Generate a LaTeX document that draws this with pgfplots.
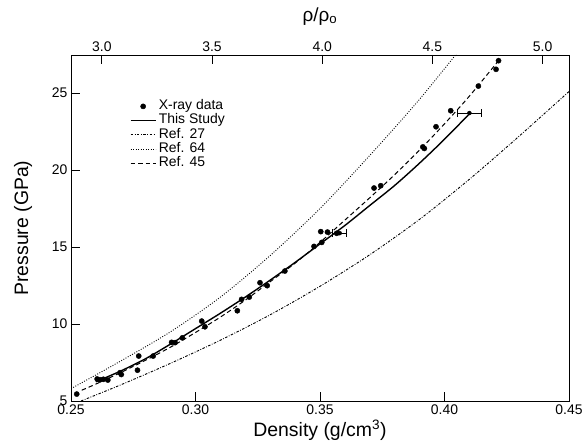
\documentclass[border=0pt]{standalone}
\usepackage{fontspec}
\setmainfont{Liberation Sans}
\usepackage{pgfplots}
\pgfplotsset{compat=1.18}
\pgfplotsset{
  lineleg/.style={legend image code/.code={\draw[##1] (0bp,0bp) -- (25bp,0bp);}},
  dotleg/.style={legend image code/.code={\draw[##1] plot coordinates {(12.5bp,0bp)};}},
}
\begin{document}
\begin{tikzpicture}
\useasboundingbox (-71bp,-43bp) rectangle (514bp,401bp);
\begin{axis}[
  at={(0,0)}, anchor=south west,
  scale only axis, width=498bp, height=346bp,
  xmin=0.25, xmax=0.45, ymin=5, ymax=27.47,
  xtick={0.25,0.30,0.35,0.40,0.45},
  ytick={5,10,15,20,25},
  xtick pos=left, ytick pos=left,
  tick align=inside, major tick length=9bp, minor tick num=0,
  axis line style={line width=0.9bp},
  tick style={black, line width=0.9bp},
  /pgf/number format/assume math mode=true,
  xticklabel style={/pgf/number format/.cd, fixed, fixed zerofill, precision=2},
  tick label style={font=\fontsize{14}{14}\selectfont},
  xlabel={Density (g/cm\textsuperscript{3})},
  ylabel={Pressure (GPa)},
  label style={font=\fontsize{19.5}{20}\selectfont},
  xlabel style={at={(axis description cs:0.5,-0.104)}, anchor=base},
  ylabel style={at={(axis description cs:-0.0863,0.5)}, anchor=base},
  legend cell align=left,
  legend style={at={(axis description cs:0.118,0.872)}, anchor=north west,
    draw=none, fill=none, inner sep=0pt, row sep=0.4bp,
    font=\fontsize{14}{14}\selectfont,
    nodes={text height=10bp, text depth=3.2bp, inner ysep=0.3bp, inner xsep=2.5bp}},
]
\addplot[only marks, mark=*, mark size=2.6bp, black, dotleg]
coordinates {
(0.2523,5.45)
(0.2605,6.43)(0.2617,6.38)(0.2630,6.41)(0.2648,6.36)
(0.2697,6.84)(0.2702,6.72)
(0.2767,7.00)(0.2772,7.92)
(0.2830,7.92)
(0.2904,8.81)(0.2918,8.79)(0.2947,9.10)
(0.3025,10.19)(0.3038,9.82)
(0.3168,10.86)(0.3185,11.60)(0.3216,11.75)
(0.3259,12.68)(0.3288,12.49)
(0.3359,13.44)
(0.3476,15.04)(0.3507,15.30)
(0.3503,16.00)(0.3530,15.97)(0.3567,15.89)
(0.3717,18.83)(0.3744,18.98)
(0.3913,21.50)(0.3919,21.40)
(0.3966,22.81)
(0.4025,23.85)
(0.4136,25.45)
(0.4207,26.54)(0.4217,27.10)
};
\addlegendentry{X-ray data}
\addplot[black, line width=1.4bp, smooth, lineleg]
coordinates {
(0.26,6.25)(0.27,6.95)(0.28,7.75)(0.29,8.7)(0.30,9.7)(0.31,10.7)(0.32,11.75)
(0.33,12.85)(0.34,14.0)(0.35,15.2)(0.36,16.4)(0.37,17.7)(0.38,19.0)
(0.39,20.45)(0.40,22.0)(0.41,23.65)
};
\addlegendentry{This Study}
\addplot[black, line width=0.9bp, smooth, dash pattern=on 2.5bp off 1.5bp on 0.8bp off 1.5bp, lineleg]
coordinates {
(0.254,5.0)(0.27,6.05)(0.29,7.45)(0.31,8.95)(0.33,10.6)(0.35,12.45)
(0.37,14.5)(0.39,16.8)(0.41,19.4)(0.43,22.2)(0.45,25.1)
};
\addlegendentry{Ref. 27}
\addplot[black, line width=0.9bp, smooth, dash pattern=on 0.9bp off 1.6bp, lineleg]
coordinates {
(0.25,5.8)(0.27,7.6)(0.29,9.5)(0.31,11.75)(0.33,14.45)(0.35,17.5)
(0.37,20.95)(0.39,24.6)(0.41,28.6)
};
\addlegendentry{Ref. 64}
\addplot[black, line width=1.0bp, smooth, dash pattern=on 4.5bp off 3bp, lineleg]
coordinates {
(0.2543,5.7)(0.26,6.1)(0.27,6.85)(0.28,7.65)(0.29,8.5)(0.30,9.45)(0.31,10.45)
(0.32,11.55)(0.33,12.75)(0.34,13.95)(0.35,15.3)(0.36,16.75)(0.37,18.2)
(0.38,19.7)(0.39,21.3)(0.40,23.0)(0.41,24.8)(0.4217,27.1)
};
\addlegendentry{Ref. 45}
\addplot[black, only marks, mark=none, forget plot,
  error bars/.cd, x dir=both, x explicit, error mark=|,
  error bar style={black, solid, line width=0.9bp},
  error mark options={black, mark size=4bp, line width=0.9bp}]
coordinates {
(0.3579,15.9) +- (0.0028,0)
(0.4100,23.7) +- (0.0050,0)
};
\end{axis}
\begin{axis}[
  at={(0,0)}, anchor=south west,
  scale only axis, width=498bp, height=346bp,
  xmin=2.86, xmax=5.12, ymin=0, ymax=1,
  axis x line*=top, axis y line=none,
  xtick={3.0,3.5,4.0,4.5,5.0},
  tick align=inside, major tick length=9bp,
  axis line style={line width=0.9bp},
  tick style={black, line width=0.9bp},
  /pgf/number format/assume math mode=true,
  xticklabel style={/pgf/number format/.cd, fixed, fixed zerofill, precision=1},
  tick label style={font=\fontsize{14}{14}\selectfont},
  xlabel={ρ/ρ\textsubscript{o}},
  label style={font=\fontsize{19}{20}\selectfont},
  xlabel style={at={(axis description cs:0.5,1.098)}, anchor=base},
]
\end{axis}
\end{tikzpicture}
\end{document}
